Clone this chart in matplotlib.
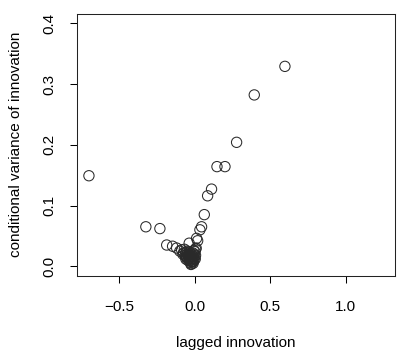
import matplotlib
matplotlib.use("Agg")
import matplotlib.pyplot as plt

plt.rcParams['font.family'] = ['Liberation Sans', 'DejaVu Sans']

lagged_innovation = [
    -0.702, 0.596, 0.393, 0.276, 0.146, 0.199, 0.110, 0.084, 0.062,
    -0.325, -0.232, 0.044, 0.033, 0.011, 0.018, -0.038,
    -0.187, -0.148, -0.121, -0.088, -0.100, -0.075, -0.065, -0.055,
    -0.045, -0.035, -0.030, -0.026, -0.020, -0.015, -0.010, -0.005,
    0.000, 0.005, -0.040, -0.050, -0.060, -0.020, -0.012, -0.030,
    -0.070, 0.002, -0.008, -0.025, -0.045, -0.015, -0.035, 0.008,
    -0.052, -0.042, -0.032, -0.022, -0.018, -0.028, -0.038, -0.048,
    -0.058, -0.008, -0.004, -0.062, -0.080, 0.004, -0.016, -0.024,
]
conditional_variance = [
    0.149, 0.329, 0.282, 0.204, 0.164, 0.164, 0.127, 0.116, 0.085,
    0.065, 0.062, 0.065, 0.060, 0.046, 0.042, 0.038,
    0.035, 0.033, 0.030, 0.027, 0.025, 0.022, 0.018, 0.015,
    0.012, 0.009, 0.006, 0.003, 0.008, 0.012, 0.016, 0.020,
    0.024, 0.028, 0.020, 0.025, 0.012, 0.015, 0.005, 0.017,
    0.028, 0.012, 0.026, 0.010, 0.018, 0.022, 0.014, 0.030,
    0.020, 0.016, 0.013, 0.011, 0.019, 0.021, 0.024, 0.010,
    0.023, 0.009, 0.013, 0.016, 0.020, 0.018, 0.007, 0.004,
]

xticks = [-0.5, 0.0, 0.5, 1.0]
xticklabels = ['\u22120.5', '0.0', '0.5', '1.0']
yticks = [0.0, 0.1, 0.2, 0.3, 0.4]
yticklabels = ['0.0', '0.1', '0.2', '0.3', '0.4']

fig = plt.figure(figsize=(3.97, 3.54), dpi=100)
ax = fig.add_axes([77/397, (354-276)/354, (395-77)/397, (276-13.5)/354])

ax.scatter(lagged_innovation, conditional_variance, s=55, facecolors='none',
           edgecolors='#2a2a2a', linewidths=0.75)

ax.set_xlim(-0.781, 1.325)
ax.set_ylim(-0.016, 0.416)
ax.set_xticks(xticks)
ax.set_xticklabels(xticklabels)
ax.set_yticks(yticks)
ax.set_yticklabels(yticklabels, rotation=90, va='center')
ax.tick_params(axis='both', length=5, width=0.75, labelsize=11, direction='out')
ax.tick_params(axis='x', pad=12)
ax.tick_params(axis='y', pad=10)
for s in ax.spines.values():
    s.set_linewidth(0.75)
    s.set_color('#222222')

ax.set_xlabel('lagged innovation', fontsize=11, labelpad=16)
ax.set_ylabel('conditional variance of innovation', fontsize=11, labelpad=13.5)

fig.savefig('out.png', dpi=100)
